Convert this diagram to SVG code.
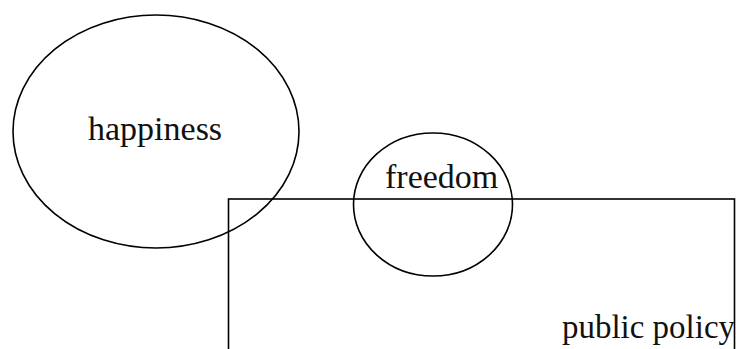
<svg xmlns="http://www.w3.org/2000/svg" width="736" height="349" viewBox="0 0 736 349">
<style>
.shape{fill:none;stroke:#000;stroke-width:1.6}
.lbl{font-family:"Liberation Serif","Times New Roman",serif;font-size:34px;fill:#111}
</style>
<rect width="736" height="349" fill="#fff"/>
<g id="public-policy">
<rect class="shape" x="228.5" y="199" width="506" height="170"/>
<text class="lbl" x="562" y="338" textLength="173" lengthAdjust="spacingAndGlyphs">public policy</text>
</g>
<g id="happiness">
<ellipse class="shape" cx="156" cy="131.5" rx="143" ry="116.5"/>
<text class="lbl" x="88" y="140">happiness</text>
</g>
<g id="freedom">
<ellipse class="shape" cx="433" cy="204.5" rx="79.5" ry="71.5"/>
<text class="lbl" x="385" y="188">freedom</text>
</g>
<g id="connectors"/>
</svg>
